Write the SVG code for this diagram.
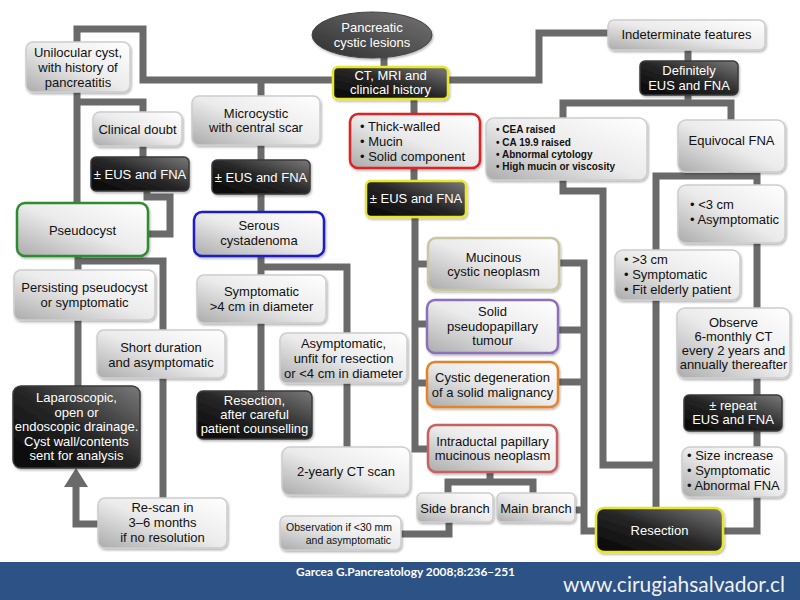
<svg xmlns="http://www.w3.org/2000/svg" width="800" height="600" viewBox="0 0 800 600">
<defs>
<linearGradient id="gl" x1="1" y1="0" x2="0" y2="1">
<stop offset="0" stop-color="#ffffff"/><stop offset="0.5" stop-color="#ebebeb"/><stop offset="1" stop-color="#ababab"/>
</linearGradient>
<linearGradient id="gd" x1="0" y1="1" x2="1" y2="0">
<stop offset="0" stop-color="#050505"/><stop offset="0.5" stop-color="#262626"/><stop offset="1" stop-color="#7a7a7a"/>
</linearGradient>
<linearGradient id="ge" x1="0" y1="1" x2="1" y2="0">
<stop offset="0" stop-color="#2e2e2e"/><stop offset="1" stop-color="#747474"/>
</linearGradient>
<filter id="sh" x="-10%" y="-10%" width="120%" height="130%">
<feDropShadow dx="1" dy="1.5" stdDeviation="1" flood-color="#000" flood-opacity="0.3"/>
</filter>
<style>
.c{fill:none;stroke:#6a6a6a;stroke-width:7;stroke-linejoin:miter;stroke-linecap:butt}
.lb{fill:url(#gl);stroke:#cdcdcd;stroke-width:1.5;filter:url(#sh)}
.db{fill:url(#gd);stroke:#3a3a3a;stroke-width:1.5;filter:url(#sh)}
.t{font-family:"Liberation Sans",Arial,sans-serif;font-size:13px;fill:#111111;text-anchor:middle}
.w{fill:#ffffff}
.l{text-anchor:start}
.s{font-size:10px;font-weight:bold}
.o{font-size:10.5px;text-anchor:end}
.yel{stroke:#e6e62a;stroke-width:2.5}
</style>
</defs>
<rect width="800" height="600" fill="#ffffff"/>

<g id="connectors">
<path class="c" d="M384,52 V70"/>
<path class="c" d="M336,80 H143 V29 H77 V206"/>
<path class="c" d="M77,102 H143 V114"/>
<path class="c" d="M143,144 V159"/>
<path class="c" d="M147,189 V197 H170 V234 H145"/>
<path class="c" d="M261,80 V98"/>
<path class="c" d="M261,143 V162"/>
<path class="c" d="M261,192 V214"/>
<path class="c" d="M261,254 V277"/>
<path class="c" d="M261,320 V393"/>
<path class="c" d="M261,267 H347 V335"/>
<path class="c" d="M347,381 V449"/>
<path class="c" d="M78,254 V272"/>
<path class="c" d="M78,318 V388"/>
<path class="c" d="M78,261 H163 V332"/>
<path class="c" d="M163,376 V500"/>
<path class="c" d="M100,524 H76 V485"/>
<polygon points="76,468 64,487 88,487" fill="#6a6a6a"/>
<path class="c" d="M414,97 V116"/>
<path class="c" d="M414,165 V183"/>
<path class="c" d="M415,215 V449 H430"/>
<path class="c" d="M415,264 H430"/>
<path class="c" d="M415,324 H430"/>
<path class="c" d="M415,383 H430"/>
<path class="c" d="M556,263 H584 V531 H598"/>
<path class="c" d="M556,330 H584"/>
<path class="c" d="M556,382 H584"/>
<path class="c" d="M573,510 H584"/>
<path class="c" d="M490,470 V482"/>
<path class="c" d="M448,494 V482 H533 V494"/>
<path class="c" d="M449,520 V534 H399"/>
<path class="c" d="M446,80 H539 V33 H610"/>
<path class="c" d="M688,48 V63"/>
<path class="c" d="M563,120 V103 H731 V122"/>
<path class="c" d="M688,93 V103"/>
<path class="c" d="M563,178 V191 H603 V465 H656"/>
<path class="c" d="M731,170 V176"/>
<path class="c" d="M656,510 V176 H757 V187"/>
<path class="c" d="M757,241 V310"/>
<path class="c" d="M757,376 V397"/>
<path class="c" d="M757,429 V449"/>
<path class="c" d="M757,495 V531 H720"/>
</g>

<g id="n-start">
<ellipse cx="372" cy="35" rx="60" ry="23" fill="url(#ge)" stroke="#444" stroke-width="1" filter="url(#sh)"/>
<text class="t w" x="372" y="32">Pancreatic</text>
<text class="t w" x="372" y="47">cystic lesions</text>
</g>
<g id="n-ct">
<rect class="db yel" x="333" y="67" width="115" height="32" rx="5"/>
<text class="t w" x="390.5" y="80">CT, MRI and</text>
<text class="t w" x="390.5" y="94">clinical history</text>
</g>
<g id="n-unilocular">
<rect class="lb" x="26" y="42" width="104" height="50" rx="7"/>
<text class="t" x="78" y="57">Unilocular cyst,</text>
<text class="t" x="78" y="72">with history of</text>
<text class="t" x="78" y="87">pancreatitis</text>
</g>
<g id="n-doubt">
<rect class="lb" x="93" y="112" width="89" height="34" rx="7"/>
<text class="t" x="137.5" y="134">Clinical doubt</text>
</g>
<g id="n-eus1">
<rect class="db" x="91" y="157" width="98" height="34" rx="5"/>
<text class="t w" x="140" y="179">± EUS and FNA</text>
</g>
<g id="n-microcystic">
<rect class="lb" x="192" y="96" width="128" height="49" rx="7"/>
<text class="t" x="256" y="118">Microcystic</text>
<text class="t" x="256" y="132">with central scar</text>
</g>
<g id="n-eus2">
<rect class="db" x="212" y="160" width="98" height="34" rx="5"/>
<text class="t w" x="261" y="182">± EUS and FNA</text>
</g>
<g id="n-pseudocyst">
<rect class="lb" x="17" y="203" width="131" height="53" rx="8" style="stroke:#2e8b2e;stroke-width:2.5"/>
<text class="t" x="82.5" y="235">Pseudocyst</text>
</g>
<g id="n-serous">
<rect class="lb" x="194" y="212" width="130" height="44" rx="8" style="stroke:#1c1cc8;stroke-width:2.5"/>
<text class="t" x="259" y="230">Serous</text>
<text class="t" x="259" y="245">cystadenoma</text>
</g>
<g id="n-persisting">
<rect class="lb" x="14" y="270" width="141" height="50" rx="7"/>
<text class="t" x="84.5" y="292">Persisting pseudocyst</text>
<text class="t" x="84.5" y="307">or symptomatic</text>
</g>
<g id="n-symptomatic">
<rect class="lb" x="197" y="275" width="129" height="48" rx="7"/>
<text class="t" x="261.5" y="296">Symptomatic</text>
<text class="t" x="261.5" y="311">&gt;4 cm in diameter</text>
</g>
<g id="n-short">
<rect class="lb" x="97" y="330" width="128" height="48" rx="7"/>
<text class="t" x="161" y="352">Short duration</text>
<text class="t" x="161" y="367">and asymptomatic</text>
</g>
<g id="n-asymptomatic">
<rect class="lb" x="280" y="333" width="127" height="50" rx="7"/>
<text class="t" x="343.5" y="348">Asymptomatic,</text>
<text class="t" x="343.5" y="363">unfit for resection</text>
<text class="t" x="343.5" y="378">or &lt;4 cm in diameter</text>
</g>
<g id="n-laparoscopic">
<rect class="db" x="13" y="386" width="127" height="82" rx="8"/>
<text class="t w" x="76.5" y="402">Laparoscopic,</text>
<text class="t w" x="76.5" y="416.5">open or</text>
<text class="t w" x="76.5" y="431">endoscopic drainage.</text>
<text class="t w" x="76.5" y="445.5">Cyst wall/contents</text>
<text class="t w" x="76.5" y="460">sent for analysis</text>
</g>
<g id="n-resection1">
<rect class="db" x="197" y="391" width="115" height="48" rx="6"/>
<text class="t w" x="254.5" y="405">Resection,</text>
<text class="t w" x="254.5" y="419">after careful</text>
<text class="t w" x="254.5" y="433">patient counselling</text>
</g>
<g id="n-ct2">
<rect class="lb" x="282" y="447" width="128" height="48" rx="8"/>
<text class="t" x="346" y="476">2-yearly CT scan</text>
</g>
<g id="n-rescan">
<rect class="lb" x="98" y="498" width="129" height="50" rx="7"/>
<text class="t" x="162.5" y="512">Re-scan in</text>
<text class="t" x="162.5" y="527">3–6 months</text>
<text class="t" x="162.5" y="542">if no resolution</text>
</g>
<g id="n-observation">
<rect class="lb" x="280" y="516" width="121" height="34" rx="6"/>
<text class="t o" x="392" y="531">Observation if &lt;30 mm</text>
<text class="t o" x="391" y="544">and asymptomatic</text>
</g>
<g id="n-thick">
<rect class="lb" x="350" y="114" width="130" height="54" rx="8" style="stroke:#e02020;stroke-width:2.5"/>
<text class="t l" x="360" y="131">• Thick-walled</text>
<text class="t l" x="360" y="146">• Mucin</text>
<text class="t l" x="360" y="161">• Solid component</text>
</g>
<g id="n-eus3">
<rect class="db yel" x="366" y="181" width="100" height="36" rx="5"/>
<text class="t w" x="416" y="203">± EUS and FNA</text>
</g>
<g id="n-mucinous">
<rect class="lb" x="428" y="238" width="131" height="52" rx="8" style="stroke:#c9c6a2;stroke-width:2.5"/>
<text class="t" x="493.5" y="262">Mucinous</text>
<text class="t" x="493.5" y="276">cystic neoplasm</text>
</g>
<g id="n-solid">
<rect class="lb" x="427" y="300" width="131" height="53" rx="8" style="stroke:#8c70b8;stroke-width:2.5"/>
<text class="t" x="492.5" y="316">Solid</text>
<text class="t" x="492.5" y="331">pseudopapillary</text>
<text class="t" x="492.5" y="345">tumour</text>
</g>
<g id="n-cystic-degeneration">
<rect class="lb" x="427" y="362" width="131" height="45" rx="8" style="stroke:#e3842a;stroke-width:2.5"/>
<text class="t" x="492.5" y="382">Cystic degeneration</text>
<text class="t" x="492.5" y="397">of a solid malignancy</text>
</g>
<g id="n-ipmn">
<rect class="lb" x="428" y="425" width="129" height="47" rx="8" style="stroke:#c86060;stroke-width:2.5"/>
<text class="t" x="492.5" y="446">Intraductal papillary</text>
<text class="t" x="492.5" y="460">mucinous neoplasm</text>
</g>
<g id="n-side">
<rect class="lb" x="417" y="493" width="76" height="29" rx="5"/>
<text class="t" x="455" y="513">Side branch</text>
</g>
<g id="n-main">
<rect class="lb" x="497" y="493" width="78" height="29" rx="5"/>
<text class="t" x="536" y="513">Main branch</text>
</g>
<g id="n-resection2">
<rect class="db yel" x="596" y="508" width="127" height="44" rx="8"/>
<text class="t w" x="659.5" y="535">Resection</text>
</g>
<g id="n-indeterminate">
<rect class="lb" x="608" y="20" width="157" height="30" rx="6"/>
<text class="t" x="686.5" y="39">Indeterminate features</text>
</g>
<g id="n-definitely">
<rect class="db" x="640" y="61" width="98" height="34" rx="5"/>
<text class="t w" x="689" y="75">Definitely</text>
<text class="t w" x="689" y="90">EUS and FNA</text>
</g>
<g id="n-cea">
<rect class="lb" x="486" y="118" width="161" height="62" rx="8"/>
<text class="t l s" x="496" y="133">• CEA raised</text>
<text class="t l s" x="496" y="146">• CA 19.9 raised</text>
<text class="t l s" x="496" y="158">• Abnormal cytology</text>
<text class="t l s" x="496" y="170">• High mucin or viscosity</text>
</g>
<g id="n-equivocal">
<rect class="lb" x="678" y="120" width="107" height="52" rx="8"/>
<text class="t" x="731.5" y="145">Equivocal FNA</text>
</g>
<g id="n-small">
<rect class="lb" x="678" y="185" width="107" height="58" rx="8"/>
<text class="t l" x="690" y="209">• &lt;3 cm</text>
<text class="t l" x="690" y="224">• Asymptomatic</text>
</g>
<g id="n-large">
<rect class="lb" x="615" y="250" width="125" height="50" rx="8"/>
<text class="t l" x="624" y="264">• &gt;3 cm</text>
<text class="t l" x="624" y="279">• Symptomatic</text>
<text class="t l" x="624" y="294">• Fit elderly patient</text>
</g>
<g id="n-observe">
<rect class="lb" x="677" y="308" width="113" height="70" rx="8"/>
<text class="t" x="733.5" y="327">Observe</text>
<text class="t" x="733.5" y="341">6-monthly CT</text>
<text class="t" x="733.5" y="355">every 2 years and</text>
<text class="t" x="733.5" y="369">annually thereafter</text>
</g>
<g id="n-repeat">
<rect class="db" x="684" y="395" width="98" height="36" rx="5"/>
<text class="t w" x="733" y="410">± repeat</text>
<text class="t w" x="733" y="424">EUS and FNA</text>
</g>
<g id="n-size">
<rect class="lb" x="682" y="447" width="103" height="50" rx="8"/>
<text class="t l" x="687" y="460">• Size increase</text>
<text class="t l" x="687" y="475">• Symptomatic</text>
<text class="t l" x="687" y="490">• Abnormal FNA</text>
</g>

<g id="banner">
<rect x="0" y="562" width="800" height="38" fill="#2c5286"/>
<text x="296" y="576" font-family="Lato,'Open Sans',sans-serif" font-size="11" font-weight="bold" fill="#ffffff" textLength="219" lengthAdjust="spacingAndGlyphs">Garcea G.Pancreatology 2008;8:236–251</text>
<text x="563" y="592" font-family="Lato,'Open Sans',sans-serif" font-size="22" fill="#f0f0f0" textLength="222" lengthAdjust="spacingAndGlyphs">www.cirugiahsalvador.cl</text>
</g>
</svg>
